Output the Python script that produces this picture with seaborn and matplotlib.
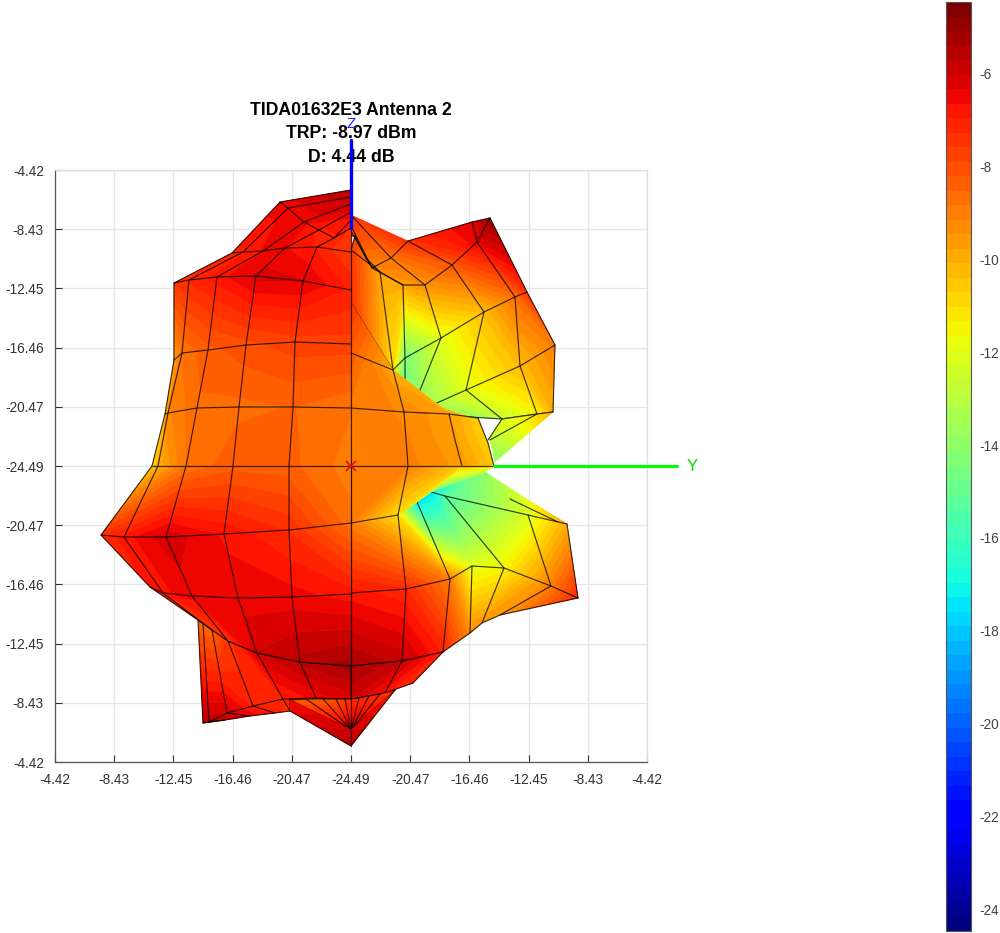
import numpy as np
import matplotlib
matplotlib.use("Agg")
import matplotlib.pyplot as plt
import seaborn as sns
from matplotlib.colors import ListedColormap, BoundaryNorm

# Colour range and tick text
V_MIN, V_MAX = -24.47, -4.45
CB_TICKS = [-6, -8, -10, -12, -14, -16, -18, -20, -22, -24]
AXIS_LABELS = ['-4.42', '-8.43', '-12.45', '-16.46', '-20.47', '-24.49',
               '-20.47', '-16.46', '-12.45', '-8.43', '-4.42']
TITLE = 'TIDA01632E3 Antenna 2\nTRP: -8.97 dBm\nD: 4.44 dB'

# Upper-left lobe surface (Y, Z, level at each mesh node)
UL_Y = [[-199, -193, -165, -118, -62, 0], [-186, -183, -154, -112, -58, 0],
        [-177, -169, -143, -105, -56, 0], [-177, -162, -134, -95, -48, 0],
        [-119, -108, -88, -66, -34, 0], [-71, -63, -47, -32, -17, 0],
        [0, 0, 0, 0, 0, 0]]
UL_Z = [[0, 0, 0, 0, 0, 0], [52, 53, 58, 59, 59, 58],
        [106, 113, 116, 121, 124, 122], [183, 186, 189, 190, 185, 176],
        [213, 214, 215, 218, 219, 214], [264, 258, 244, 236, 228, 238],
        [276, 269, 262, 254, 246, 238]]
UL_V = [[-10.8, -10, -8.8, -8.3, -8.4, -9], [-10.5, -9.2, -8.6, -8.6, -8.5, -8.8],
        [-9.8, -8.8, -8.3, -8, -7.7, -7.7], [-7.5, -7.2, -6.8, -6.2, -6.3, -7],
        [-7, -7, -6.6, -6.6, -7, -7.6], [-6.5, -6.5, -6.5, -7, -7, -7.3],
        [-5.5, -5.8, -6, -6.3, -6.7, -7]]

# Lower-left lobe surface
LL_Y = [[-199, -193, -165, -118, -62, 0], [-250, -227, -185, -127, -62, 0],
        [-201, -188, -159, -113, -59, 0], [-153, -139, -123, -94, -51, 0]]
LL_Z = [[0, 0, 0, 0, 0, 0], [-69, -71, -71, -68, -64, -57],
        [-121, -127, -130, -132, -131, -128], [-154, -164, -175, -187, -196, -200]]
LL_V = [[-10.8, -10, -8.8, -8.3, -8.4, -9], [-7.3, -6.8, -6.1, -6.7, -7.3, -8.7],
        [-6.8, -6.7, -6.5, -6.5, -6.5, -6.8], [-8.5, -8.5, -7.5, -6, -5.6, -5.2]]

# Bottom-left skirt
BL_Y = [[-153, -148, -139, -123, -94, -51, 0], [-148, -142, -124, -98, -68, -35, 0],
        [-148, -126, -101, -76, -61, -61, -61]]
BL_Z = [[-154, -157, -164, -175, -187, -196, -200], [-257, -256, -247, -240, -233, -232, -233],
        [-257, -254, -250, -247, -245, -239, -234]]
BL_V = [[-8.5, -8.5, -8.5, -7.5, -6, -5.6, -5.2], [-5.5, -5.8, -6, -7, -7, -6.5, -6.2],
        [-5.5, -6, -6.5, -7, -7.5, -7.5, -7.5]]

# Fan at the lower pole
FAN_Y = [[-61, -45, -28, -15, -6, 0, 8, 18, 29, 44], [0, 0, 0, 0, 0, 0, 0, 0, 0, 0]]
FAN_Z = [[-234, -233, -233, -233, -233, -233, -232, -230, -228, -224],
         [-264, -264, -264, -264, -264, -264, -264, -264, -264, -264]]
FAN_V = [[-8.3, -8.3, -8.3, -8, -7.5, -7.3, -7.3, -7.3, -7.3, -7.5],
         [-6, -6, -6, -6, -6, -6, -6, -6, -6, -6]]
STRIP_Y = [[-61, 0, 44], [-61, 0, 44]]
STRIP_Z = [[-234, -264, -224], [-245, -280, -224]]
STRIP_V = [[-6.6, -6, -7], [-6.4, -5.5, -7]]

# Upper-right rear lobe
RU_Y = [[202, 186, 151, 119, 98, 53, 0], [204, 169, 115, 59, 54, 42, 0],
        [176, 164, 133, 90, 54, 42, 0], [139, 126, 101, 74, 52, 29, 0],
        [139, 121, 57, 40, 21, 15, 4], [139, 121, 57, 0, 0, 0, 0]]
RU_Z = [[54, 52, 47, 49, 52, 54, 58], [121, 100, 76, 51, 54, 81, 113],
        [174, 169, 154, 128, 108, 96, 163], [248, 224, 201, 181, 181, 194, 216],
        [248, 244, 225, 208, 198, 208, 230], [248, 244, 225, 251, 240, 235, 230]]
RU_V = [[-10, -11.5, -12.8, -15, -15, -12, -10], [-9, -10.3, -12, -14.5, -15, -13, -9],
        [-7.4, -8.7, -10.3, -12, -14.5, -11, -7.3], [-5, -6.3, -8.2, -9.4, -9.8, -9.8, -7.5],
        [-5, -6.3, -7.3, -8.8, -9.2, -9.3, -7.8], [-5, -6.3, -7.3, -7.5, -7.5, -7.5, -7.5]]

# Narrow sliver right of the waist
SL_Y = [[202, 186, 151], [144, 139, 137]]
SL_Z = [[54, 52, 47], [4, 26, 26]]
SL_V = [[-10, -11, -12], [-14, -13, -12.5]]

# Upper-right front lobe
FU_Y = [[0, 57, 111, 143], [0, 55, 104, 137], [0, 53, 98, 127], [0, 42, 87, 111], [0, 42, 87, 111]]
FU_Z = [[0, 0, 0, 0], [29, 27, 26, 23], [58, 54, 52, 48], [113, 96, 61, 49], [163, 96, 61, 49]]
FU_V = [[-9, -9, -9.6, -10.5], [-9, -9.1, -9.7, -10.7], [-8.9, -9.2, -9.7, -10.7],
        [-8.3, -10, -10.7, -10.7], [-7.5, -10, -10.7, -10.7]]

# Lower-right rear lobe
RL_Y = [[0, 47, 66, 80, 134, 174, 216], [0, 47, 66, 80, 94, 177, 216],
        [0, 55, 99, 121, 153, 200, 227], [0, 51, 92, 119, 131, 149, 227]]
RL_Z = [[-57, -49, -36, -26, -6, -32, -58], [-57, -49, -36, -26, -30, -49, -58],
        [-127, -123, -113, -100, -102, -120, -132], [-200, -195, -186, -167, -157, -149, -132]]
RL_V = [[-9, -11, -17.5, -17.5, -14, -12, -9.5], [-9, -11, -17.5, -17.5, -15.5, -12.2, -10],
        [-6.8, -7.2, -9, -12, -11.5, -9, -7.2], [-5.3, -5.8, -7, -9.3, -9.5, -9.7, -7.2]]

# Bottom-right skirt
BR_Y = [[0, 51, 92], [0, 34, 62]]
BR_Z = [[-200, -195, -186], [-233, -227, -217]]
BR_V = [[-5.3, -5.8, -7], [-6, -6.8, -7.3]]

# Lower-right front lobe
FL_Y = [[0, 57, 111, 143], [0, 47, 80, 134]]
FL_Z = [[0, 0, 0, 0], [-57, -49, -26, -6]]
FL_V = [[-9, -9, -10.5, -11], [-9, -11, -14.5, -13]]

# Short separate mesh lines
STRAY_Y = [159, 207]
STRAY_Z = [-33, -56]

# Cartesian axis lines and origin
Y_AXIS_Y = [143, 326]
Y_AXIS_Z = [0, 0]
Z_AXIS_Y = [0, 0]
Z_AXIS_Z = [238, 326]

sns.set_style("white")
plt.rcParams['font.family'] = ['Liberation Sans', 'DejaVu Sans']
plt.rcParams['axes.unicode_minus'] = False

jet64 = matplotlib.colormaps['jet'].resampled(64)
CMAP = ListedColormap(jet64(np.arange(64)))
LEVELS = np.linspace(V_MIN, V_MAX, 65)
NORM = BoundaryNorm(LEVELS, 64)

fig = plt.figure(figsize=(10, 9.33), dpi=100)
ax = fig.add_axes([55 / 1000, 1 - 762 / 933, 592 / 1000, 592 / 933])
cax = fig.add_axes([946 / 1000, 1 - 931 / 933, 25 / 1000, 929 / 933])

LIM = 296
ticks = np.linspace(-LIM, LIM, 11)
ax.set_xlim(-LIM, LIM)
ax.set_ylim(-LIM, LIM)
ax.set_xticks(ticks, AXIS_LABELS)
ax.set_yticks(ticks, AXIS_LABELS)
ax.grid(True, color='#e6e6e6', lw=1)
ax.set_axisbelow(True)
ax.tick_params(direction='in', length=5, width=0.8, color='#333333',
               labelcolor='#333333', labelsize=9.8, left=True, bottom=True, pad=8)
for s, c in (('left', '#555555'), ('bottom', '#555555'), ('top', '#dddddd'), ('right', '#dddddd')):
    ax.spines[s].set_color(c)
    ax.spines[s].set_linewidth(0.9)

order = [10]


def wire(xs, ys, z):
    sns.lineplot(x=xs, y=ys, sort=False, estimator=None, errorbar=None, color='black',
                 lw=0.85, alpha=0.75, legend=False, zorder=z, ax=ax)


def surface(y, z, v, rows=None, cols=None):
    """Filled mesh plus its wires; rows/cols give node ranges, missing = whole line."""
    y, z, v = np.array(y, float), np.array(z, float), np.array(v, float)
    rows, cols = rows or {}, cols or {}
    order[0] += 1
    cs = ax.contourf(y, z, np.clip(v, V_MIN + .01, V_MAX - .01), levels=LEVELS, cmap=CMAP, norm=NORM,
                     zorder=order[0], antialiased=True)
    cs.set_edgecolor('face')
    cs.set_linewidth(0.4)
    order[0] += 1
    for i in range(y.shape[0]):
        a, b = rows.get(i, (0, y.shape[1] - 1))
        if b > a:
            wire(y[i, a:b + 1], z[i, a:b + 1], order[0])
    for j in range(y.shape[1]):
        a, b = cols.get(j, (0, y.shape[0] - 1))
        if b > a:
            wire(y[a:b + 1, j], z[a:b + 1, j], order[0])


surface(RU_Y, RU_Z, RU_V, rows={5: (0, 0)})
surface(SL_Y, SL_Z, SL_V, rows={1: (0, 0)}, cols={0: (0, 0)})
surface(UL_Y, UL_Z, UL_V, rows={6: (0, 0)})
surface(FU_Y, FU_Z, FU_V, rows={1: (0, 0), 3: (0, 1), 4: (0, 0)},
        cols={0: (0, 4), 1: (0, 3), 2: (0, 2), 3: (0, 2)})
surface(RL_Y, RL_Z, RL_V, rows={0: (0, 0), 1: (3, 6)}, cols={3: (2, 3), 4: (1, 3), 5: (1, 3), 6: (1, 3),
                                                            0: (1, 3), 1: (1, 3), 2: (1, 3)})
wire(STRAY_Y, STRAY_Z, order[0])
surface(BR_Y, BR_Z, BR_V)
surface(FL_Y, FL_Z, FL_V, rows={0: (0, 3), 1: (0, 1)}, cols={0: (0, 1), 1: (0, 1), 2: (0, 0), 3: (0, 0)})
surface(BL_Y, BL_Z, BL_V)
surface(LL_Y, LL_Z, LL_V)
surface(FAN_Y, FAN_Z, FAN_V, rows={1: (0, 0)})
surface(STRIP_Y, STRIP_Z, STRIP_V, rows={0: (0, 0)}, cols={0: (0, 0), 2: (0, 0)})

top = order[0] + 1
sns.lineplot(x=Y_AXIS_Y, y=Y_AXIS_Z, sort=False, estimator=None, errorbar=None, color='#00ff00',
             lw=2.2, legend=False, zorder=top, ax=ax).lines[-1].set_clip_on(False)
sns.lineplot(x=Z_AXIS_Y, y=Z_AXIS_Z, sort=False, estimator=None, errorbar=None, color='#0000ff',
             lw=2.4, legend=False, zorder=top, ax=ax).lines[-1].set_clip_on(False)
ax.plot([0], [0], marker='x', color='#e01010', ms=7, mew=1.2, zorder=top, clip_on=False)
ax.text(341, 0, 'Y', color='#00e000', fontsize=12, ha='center', va='center', clip_on=False, zorder=top)
ax.text(0, 342, 'Z', color='#2020ff', fontsize=11, ha='center', va='center', clip_on=False, zorder=top)

ax.set_title(TITLE, fontsize=12.7, fontweight='bold', color='black', pad=6, linespacing=1.5)

sm = plt.cm.ScalarMappable(norm=plt.Normalize(V_MIN, V_MAX), cmap=CMAP)
cb = fig.colorbar(sm, cax=cax)
cb.set_ticks(CB_TICKS)
cb.ax.tick_params(direction='in', length=8, width=0.8, color='#444444', labelcolor='#444444',
                  labelsize=9.8, right=True, pad=6)
cb.outline.set_edgecolor('#555555')
cb.outline.set_linewidth(0.8)

fig.savefig('out.png', dpi=100)
